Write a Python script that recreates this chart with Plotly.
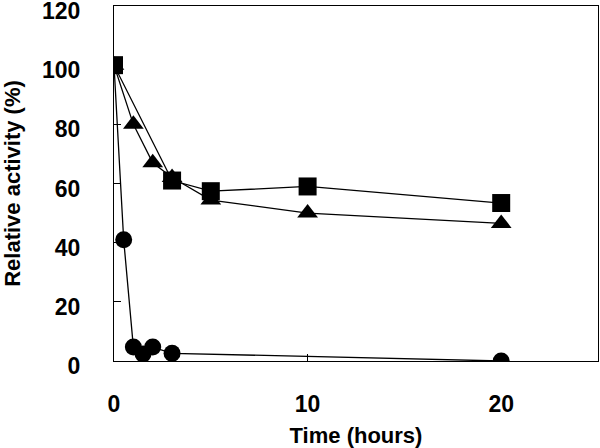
import plotly.graph_objects as go

# Data
circle_x = [0, 0.5, 1, 1.5, 2, 3, 20]
circle_y = [100, 41, 4.7, 2.4, 4.7, 2.6, 0]

triangle_x = [0, 1, 2, 3, 5, 10, 20]
triangle_y = [100, 80, 67, 62, 54.4, 50, 46.5]

square_x = [0, 3, 5, 10, 20]
square_y = [100, 61, 57.4, 59, 53.4]

x_ticks = [0, 10, 20]
y_ticks = [0, 20, 40, 60, 80, 100, 120]

FONT = "Liberation Sans, Arial, sans-serif"

fig = go.Figure()
line = dict(color="black", width=1.3)
fig.add_trace(go.Scatter(x=circle_x, y=circle_y, mode="lines+markers", line=line,
                         marker=dict(symbol="circle", size=17, color="black"), name="circle"))
fig.add_trace(go.Scatter(x=triangle_x, y=triangle_y, mode="lines+markers", line=line,
                         marker=dict(symbol="triangle-up", size=18, color="black"), name="triangle"))
fig.add_trace(go.Scatter(x=square_x, y=square_y, mode="lines+markers", line=line,
                         marker=dict(symbol="square", size=18, color="black"), name="square"))

fig.update_layout(
    width=600, height=448,
    margin=dict(l=114, r=2, t=6, b=87),
    paper_bgcolor="white", plot_bgcolor="white",
    showlegend=False,
    font=dict(family=FONT, color="black"),
)
fig.update_xaxes(
    range=[0, 25], tickvals=x_ticks, ticktext=[str(v) for v in x_ticks],
    showgrid=False, zeroline=False, showline=True, linecolor="black", linewidth=1.3, mirror=True,
    ticks="inside", ticklen=7, tickcolor="black", tickwidth=1,
    tickfont=dict(size=23, family=FONT, weight="bold"),
    ticklabelstandoff=22, automargin=False, ticklabeloverflow="allow",
    title=dict(text="<b>Time (hours)</b>", font=dict(size=22, family=FONT), standoff=15),
)
fig.update_yaxes(
    range=[0, 120], tickvals=y_ticks, ticktext=[str(v) for v in y_ticks],
    showgrid=False, zeroline=False, showline=True, linecolor="black", linewidth=1.3, mirror=True,
    ticks="inside", ticklen=7, tickcolor="black", tickwidth=1,
    tickfont=dict(size=23, family=FONT, weight="bold"),
    ticklabelstandoff=28, ticklabelshift=5, automargin=False, ticklabeloverflow="allow",
    title=dict(text="<b>Relative activity (%)</b>", font=dict(size=22, family=FONT), standoff=19),
)

fig.write_html("out.html", config={"displayModeBar": False},
               post_script="document.body.style.margin='0';")
